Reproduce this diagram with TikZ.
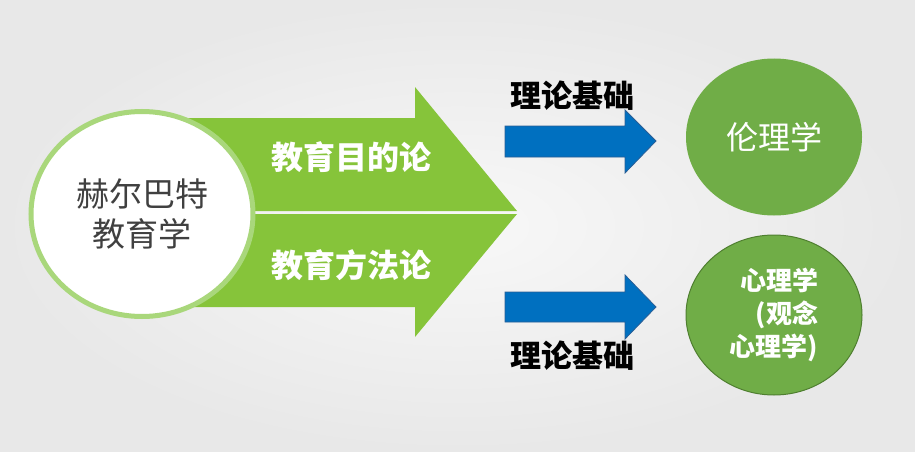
\documentclass[tikz,border=0pt]{standalone}
\usepackage{fontspec}
\setmainfont{Noto Sans CJK SC}
\usetikzlibrary{shapes.geometric}
\definecolor{bggray}{HTML}{E8E8E8}
\definecolor{bginner}{HTML}{F8F8F8}
\definecolor{arrgreen}{HTML}{86C43A}
\definecolor{ringgreen}{HTML}{A9D77B}
\definecolor{ballgreen}{HTML}{70AD47}
\definecolor{balledge}{HTML}{4F7F30}
\definecolor{blue1}{HTML}{0070C0}
\definecolor{blueedge}{HTML}{2A5E95}
\definecolor{txtgray}{HTML}{404040}
\tikzset{
  greenarrow/.style={fill=arrgreen, draw=none},
  bluearrow/.style={fill=blue1, draw=blueedge, line width=0.8pt},
  ball/.style={ellipse, fill=ballgreen, text=white, inner sep=0pt},
  lbl/.style={font=\fontsize{31}{34}\selectfont\bfseries, text=black},
  armtext/.style={font=\fontsize{32}{36}\selectfont\bfseries, text=white},
}
\begin{document}
\begin{tikzpicture}[x=1pt,y=-1pt]
\useasboundingbox (0,0) rectangle (915,452);
\shade[inner color=bginner, outer color=bggray] (0,0) rectangle (915,452);
% green arrows
\fill[greenarrow] (185,118) -- (415,118) -- (415,87) -- (517,211) -- (185,211) -- cycle;
\fill[greenarrow] (185,214) -- (517,214) -- (415,337) -- (415,307) -- (185,307) -- cycle;
% left circle
\node[ellipse, draw=ringgreen, line width=5pt, fill=white, minimum width=222pt, minimum height=205pt,
      align=center, text=txtgray, font=\fontsize{33}{40}\selectfont] (hb) at (142,214) {赫尔巴特\\教育学};
\node[armtext] (aim) at (351,157) {教育目的论};
\node[armtext] (met) at (351,265) {教育方法论};
% blue arrows
\fill[bluearrow] (505,126) -- (625,126) -- (625,110) -- (656,141) -- (625,173) -- (625,157) -- (505,157) -- cycle;
\fill[bluearrow] (505,292) -- (625,292) -- (625,275) -- (656,307) -- (625,339) -- (625,322) -- (505,322) -- cycle;
\node[lbl] (t1) at (572,96) {理论基础};
\node[lbl] (t2) at (572,356) {理论基础};
% right balls
\node[ball, minimum width=176pt, minimum height=157pt, font=\fontsize{32}{36}\selectfont] (eth) at (774,137) {伦理学};
\node[ball, draw=balledge, line width=1pt, minimum width=176pt, minimum height=160pt, align=right,
      font=\fontsize{26}{33}\selectfont\bfseries] (psy) at (774,315) {心理学\\(观念\\心理学)};
\end{tikzpicture}
\end{document}
